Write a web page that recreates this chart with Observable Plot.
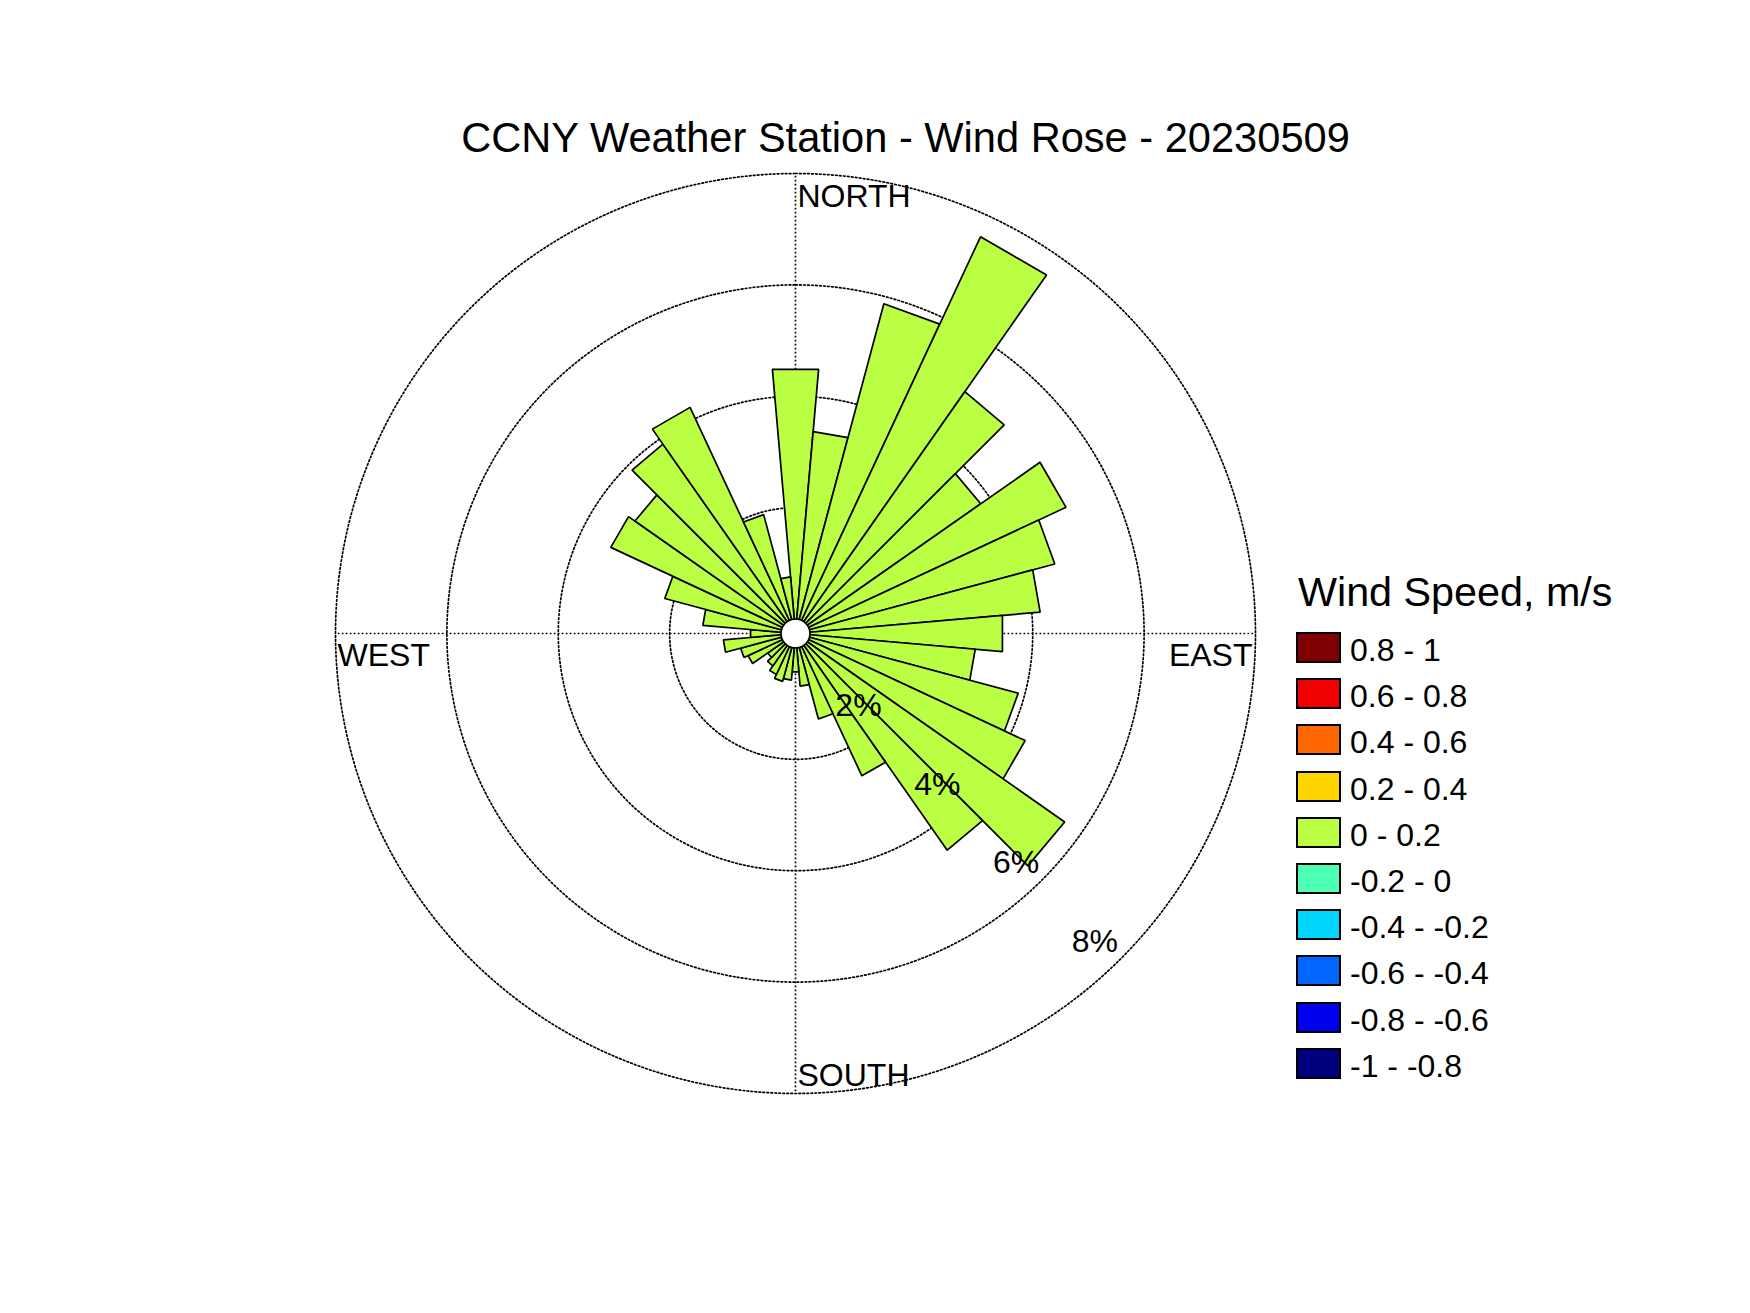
<!DOCTYPE html>
<html>
<head>
<meta charset="utf-8">
<script src="https://cdn.jsdelivr.net/npm/d3@7"></script>
<script src="https://cdn.jsdelivr.net/npm/@observablehq/plot@0.6"></script>
<style>
  body { margin: 0; background: #fff; }
  #wrap { position: relative; width: 1750px; height: 1313px; overflow: hidden;
          font-family: "Liberation Sans", Arial, Helvetica, sans-serif; color: #000; background: #fff; }
  #chart { position: absolute; left: 0; top: 0; }
  #title { position: absolute; left: 0; width: 1811px; top: 117px; text-align: center;
           font-size: 41.6px; line-height: 42px; white-space: nowrap; }
  .lg-title { position: absolute; left: 1298px; top: 572px; font-size: 41.3px; line-height: 41px; white-space: nowrap; }
  .lg-sw { position: absolute; left: 1296px; width: 45px; height: 31px; box-sizing: border-box; border: 2.5px solid #000; }
  .lg-lab { position: absolute; left: 1350px; font-size: 32px; line-height: 32px; white-space: nowrap; }
</style>
</head>
<body>
<div id="wrap">
  <div id="chart"></div>
  <div id="title"></div>
  <div id="legend"></div>
</div>
<script>
// ---------------- data ----------------
const titleText = "CCNY Weather Station - Wind Rose - 20230509";
const legendTitle = "Wind Speed, m/s";

// direction bins (degrees, clockwise from north), 10° wide
const directions = [0, 10, 20, 30, 40, 50, 60, 70, 80, 90, 100, 110,
                    120, 130, 140, 150, 160, 170, 180, 190, 200, 210, 220, 230,
                    240, 250, 260, 270, 280, 290, 300, 310, 320, 330, 340, 350];
// frequency of each direction bin (%)
const frequency = [4.50, 3.38, 5.87, 7.60, 5.04, 3.80, 5.10, 4.56, 4.15, 3.47, 2.98, 3.88,
                   4.29, 5.64, 4.49, 2.56, 1.33, 0.69, 0.43, 0.58, 0.63, 0.55, 0.45, 0.35,
                   0.68, 0.76, 1.04, 0.55, 1.41, 2.17, 3.40, 3.26, 3.89, 4.22, 1.95, 0.76];
// speed class of each bar
const barSpeed = ["0 - 0.2", "0 - 0.2", "0 - 0.2", "0 - 0.2", "0 - 0.2", "0 - 0.2",
                  "0 - 0.2", "0 - 0.2", "0 - 0.2", "0 - 0.2", "0 - 0.2", "0 - 0.2",
                  "0 - 0.2", "0 - 0.2", "0 - 0.2", "0 - 0.2", "0 - 0.2", "0 - 0.2",
                  "0 - 0.2", "0 - 0.2", "0 - 0.2", "0 - 0.2", "0 - 0.2", "0 - 0.2",
                  "0 - 0.2", "0 - 0.2", "0 - 0.2", "0 - 0.2", "0 - 0.2", "0 - 0.2",
                  "0 - 0.2", "0 - 0.2", "0 - 0.2", "0 - 0.2", "0 - 0.2", "0 - 0.2"];

// legend classes and colours
const speedBins = ["0.8 - 1", "0.6 - 0.8", "0.4 - 0.6", "0.2 - 0.4", "0 - 0.2",
                   "-0.2 - 0", "-0.4 - -0.2", "-0.6 - -0.4", "-0.8 - -0.6", "-1 - -0.8"];
const speedColors = ["#7f0000", "#f00000", "#ff6600", "#ffd500", "#bbff44",
                     "#4dffb2", "#00d5ff", "#0066ff", "#0000f0", "#00007f"];

// radial ticks
const ringTicks = [2, 4, 6, 8];
const ringLabels = ["2%", "4%", "6%", "8%"];
const labelAngle = 135;

// compass labels
const compassNames = ["NORTH", "EAST", "SOUTH", "WEST"];
const compassAngles = [0, 90, 180, 270];

// ---------------- geometry helpers ----------------
const HOLE = 0.26;      // empty centre, in % units
const BIN = 10;         // bin width, degrees
const rad = d => d * Math.PI / 180;
const polar = (deg, u) => [u * Math.sin(rad(deg)), u * Math.cos(rad(deg))];
const OUTER = ringTicks[ringTicks.length - 1] + HOLE;

const wedges = directions.flatMap((d, i) => {
  const u = frequency[i] + HOLE;
  const pts = [[0, 0], polar(d - BIN / 2, u), polar(d + BIN / 2, u), [0, 0]];
  return pts.map(([x, y]) => ({id: i, x, y, speed: barSpeed[i]}));
});

const circle = (u, key) => d3.range(0, 361, 1).map(a => {
  const [x, y] = polar(a, u);
  return {key, x, y};
});
const ringPts = ringTicks.flatMap(t => circle(t + HOLE, t));
const holePts = circle(HOLE, "hole");

const spokes = compassAngles.map(a => {
  const [x2, y2] = polar(a, OUTER);
  return {x1: 0, y1: 0, x2, y2};
});

const ringLabelData = ringTicks.map((t, i) => {
  const [x, y] = polar(labelAngle, t + HOLE);
  return {x, y, label: ringLabels[i]};
});

const compassData = compassNames.map((name, i) => {
  const [x, y] = polar(compassAngles[i], OUTER);
  return {name, x, y};
});

// ---------------- plot ----------------
const W = 1750, H = 1313, CX = 795, CY = 633, S = 55.69, D = 8.6;
const font = '"Liberation Sans", Arial, Helvetica, sans-serif';

const compassStyle = [
  {textAnchor: "start", lineAnchor: "top", dx: 2, dy: 11},     // NORTH
  {textAnchor: "end", lineAnchor: "top", dx: -3, dy: 10},      // EAST
  {textAnchor: "start", lineAnchor: "bottom", dx: 2, dy: -7},  // SOUTH
  {textAnchor: "start", lineAnchor: "top", dx: 2, dy: 10}      // WEST
];

const dotted = {stroke: "black", strokeWidth: 1.7, strokeDasharray: "1.7,2.3"};

const chart = Plot.plot({
  width: W,
  height: H,
  marginLeft: CX - D * S,
  marginRight: W - CX - D * S,
  marginTop: CY - D * S,
  marginBottom: H - CY - D * S,
  x: {domain: [-D, D], axis: null},
  y: {domain: [-D, D], axis: null},
  color: {domain: speedBins, range: speedColors},
  style: {fontFamily: font, background: "white", overflow: "visible"},
  marks: [
    Plot.line(ringPts, {x: "x", y: "y", z: "key", ...dotted}),
    Plot.link(spokes, {x1: "x1", y1: "y1", x2: "x2", y2: "y2", ...dotted}),
    Plot.line(wedges, {x: "x", y: "y", z: "id", fill: "speed", stroke: "black", strokeWidth: 1.7, strokeLinejoin: "miter"}),
    Plot.line(holePts, {x: "x", y: "y", fill: "white", stroke: "black", strokeWidth: 1.7}),
    ...compassData.map((c, i) => Plot.text([c], {
      x: "x", y: "y", text: "name", fontSize: 32, fill: "black", ...compassStyle[i]
    })),
    Plot.text(ringLabelData, {x: "x", y: "y", text: "label", fontSize: 32, fill: "black",
      textAnchor: "middle", lineAnchor: "middle", dx: -26, dy: -17})
  ]
});
document.getElementById("chart").appendChild(chart);

// ---------------- title & legend ----------------
document.getElementById("title").textContent = titleText;
const lg = document.getElementById("legend");
const lt = document.createElement("div");
lt.className = "lg-title";
lt.textContent = legendTitle;
lg.appendChild(lt);
const PITCH = 46.2;
speedBins.forEach((label, i) => {
  const sw = document.createElement("div");
  sw.className = "lg-sw";
  sw.style.top = (632 + i * PITCH) + "px";
  sw.style.background = speedColors[i];
  lg.appendChild(sw);
  const tx = document.createElement("div");
  tx.className = "lg-lab";
  tx.style.top = (634 + i * PITCH) + "px";
  tx.textContent = label;
  lg.appendChild(tx);
});
</script>
</body>
</html>
